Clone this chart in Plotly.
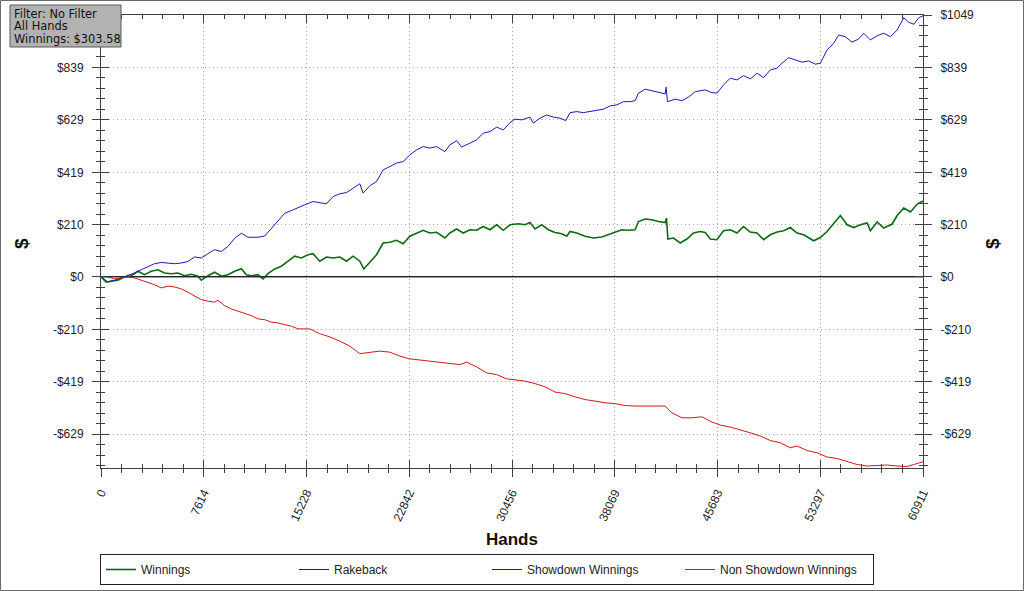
import plotly.graph_objects as go

# ---------------- data ----------------
x_tick_labels = ["0", "7614", "15228", "22842", "30456", "38069", "45683", "53297", "60911"]
y_tick_vals = [-629, -419, -210, 0, 210, 419, 629, 839, 1049]
y_tick_labels = ["-$629", "-$419", "-$210", "$0", "$210", "$419", "$629", "$839", "$1049"]
info_lines = ["Filter: No Filter", "All Hands", "Winnings: $303.58"]

showdown_x = [0, 504, 1002, 1499, 1988, 2485, 2982, 3472, 3969, 4466, 4956, 5453, 5950, 6440, 6937,
              7434, 7923, 8421, 8918, 9407, 9904, 10401, 10891, 11633, 12130, 12627, 13117, 13614,
              14111, 14601, 15098, 15714, 16211, 16708, 17197, 17694, 18191, 18681, 19178, 19423,
              19920, 20417, 20907, 21404, 21901, 22391, 22888, 23385, 23874, 24371, 24868, 25484,
              25855, 26352, 26723, 27339, 27836, 28326, 28823, 29320, 29810, 30307, 30677, 31174,
              31790, 32035, 32532, 33029, 33519, 34016, 34439, 34758, 35255, 35745, 36242, 36739,
              37229, 37726, 38223, 38712, 39209, 39580, 39825, 40322, 40819, 41309, 41806, 41880,
              41977, 42548, 43045, 43535, 44032, 44773, 45271, 45642, 46131, 46628, 47125, 47615,
              48112, 48609, 49099, 49596, 50093, 50464, 50954, 51451, 51948, 52438, 52935, 53305,
              53802, 54292, 54663, 55160, 55657, 56147, 56518, 57015, 57512, 58002, 58499, 58996,
              59486, 59857, 60228, 60599, 60911]
showdown_y = [0, -19, -13, -4, 5, 16, 29, 40, 53, 58, 56, 53, 56, 62, 80,
              76, 93, 109, 102, 122, 155, 175, 159, 159, 164, 195, 226, 255,
              266, 279, 289, 302, 296, 293, 322, 333, 338, 356, 373, 336,
              365, 382, 429, 442, 456, 462, 489, 509, 522, 516, 522, 502,
              529, 546, 520, 536, 549, 576, 582, 600, 589, 618, 632, 629,
              640, 616, 636, 649, 640, 636, 626, 658, 662, 658, 662, 669,
              672, 685, 689, 702, 702, 706, 736, 752, 746, 742, 733, 760,
              702, 712, 706, 720, 742, 749, 738, 736, 769, 796, 789, 806,
              793, 816, 798, 829, 836, 856, 878, 869, 860, 865, 852, 856,
              909, 936, 969, 962, 940, 953, 976, 949, 966, 976, 962, 989,
              1038, 1020, 1012, 1038, 1046]

winnings_x = [0, 386, 757, 1246, 1743, 2240, 2730, 3227, 3724, 4214, 4711, 5208, 5698, 6195, 6692,
              7182, 7434, 7923, 8421, 8918, 9407, 9904, 10401, 10772, 11143, 11633, 12004, 12375,
              12872, 13369, 13859, 14356, 14853, 15343, 15714, 16211, 16708, 17197, 17694, 18191,
              18681, 19178, 19475, 19920, 20417, 20907, 21404, 21901, 22391, 22888, 23385, 23874,
              24371, 24868, 25484, 25855, 26352, 26842, 27339, 27836, 28326, 28823, 29320, 29810,
              30307, 30923, 31419, 31790, 32161, 32658, 33148, 33645, 34142, 34513, 34758, 35255,
              35871, 36487, 37110, 37599, 38096, 38593, 39083, 39580, 39825, 40322, 40819, 41309,
              41806, 41902, 42006, 42422, 42919, 43416, 43906, 44403, 44773, 45144, 45642, 46131,
              46628, 47125, 47615, 48112, 48609, 49099, 49596, 50093, 50583, 51080, 51577, 52067,
              52809, 53305, 53802, 54292, 54789, 55286, 55776, 56273, 56770, 57015, 57512, 58002,
              58625, 58996, 59486, 59983, 60480, 60911]
winnings_y = [0, -21, -17, -13, 0, 5, 23, 9, 23, 29, 16, 13, 16, 5, 11,
              3, -13, 5, 19, 3, 9, 23, 33, 9, 5, 9, -8, 13,
              32, 43, 63, 83, 76, 89, 93, 63, 80, 76, 80, 63,
              83, 63, 32, 59, 89, 136, 139, 147, 133, 163, 176, 187,
              176, 179, 156, 176, 192, 176, 189, 187, 202, 189, 209, 187,
              209, 213, 209, 218, 192, 209, 189, 178, 173, 163, 182, 176,
              163, 156, 160, 169, 178, 189, 187, 189, 222, 232, 229, 222,
              218, 236, 152, 156, 136, 152, 176, 182, 178, 152, 149, 185,
              189, 176, 202, 180, 176, 149, 169, 180, 185, 198, 176, 169,
              145, 158, 182, 216, 246, 209, 198, 209, 216, 185, 220, 196,
              212, 246, 276, 260, 292, 304]

non_showdown_x = [0, 504, 1002, 1499, 1988, 2485, 2982, 3472, 3969, 4466, 4956, 5453, 5950, 6440,
                  6937, 7434, 7923, 8421, 8666, 9163, 9660, 10149, 10646, 11143, 11633, 12130,
                  12627, 13117, 13614, 14111, 14601, 15469, 16211, 16953, 17694, 18436, 19178,
                  19920, 20662, 21404, 22145, 22888, 23629, 24371, 25113, 25855, 26597, 27094,
                  27836, 28578, 29320, 30062, 30677, 31419, 32161, 32903, 33645, 34387, 35129,
                  35871, 36613, 37355, 38096, 38838, 39580, 40322, 41064, 41806, 42303, 43045,
                  43787, 44529, 45271, 45886, 46628, 47370, 48112, 48854, 49596, 50338, 51080,
                  51577, 52319, 53061, 53802, 54544, 55286, 56028, 56770, 57512, 58254, 58996,
                  59738, 60228, 60911]
non_showdown_y = [0, 0, -8, -4, 0, -4, -13, -21, -31, -44, -37, -40, -48, -61,
                  -75, -91, -97, -101, -93, -115, -128, -137, -144, -155, -168, -171,
                  -181, -184, -191, -197, -208, -208, -227, -240, -257, -277, -307,
                  -301, -297, -301, -317, -328, -333, -337, -341, -347, -351, -341,
                  -360, -384, -391, -408, -413, -417, -427, -440, -461, -467, -480,
                  -491, -497, -504, -507, -515, -517, -517, -520, -517, -544, -564,
                  -564, -560, -581, -593, -601, -611, -624, -637, -655, -664, -684,
                  -677, -695, -704, -721, -727, -740, -751, -757, -755, -753, -757,
                  -759, -751, -740]

rakeback_x = [0, 60911]
rakeback_y = [0, 0]

# ---------------- layout geometry ----------------
W, H = 1024, 591
ML, MR, MT, MB = 101, 101, 15, 123
PW, PH = W - ML - MR, H - MT - MB


def pxx(px):
    return (px - ML) / PW


def pxy(py):
    return (H - MB - py) / PH


x_max = float(x_tick_labels[-1])
x_tick_vals = [float(v) for v in x_tick_labels]
y_range = [-765, 1049]
# the top-left label is hidden behind the info box in the reference
left_tick_labels = [t if v != y_tick_vals[-1] else "" for v, t in zip(y_tick_vals, y_tick_labels)]

AX = "#404040"
GRID = "#a8a8a8"
FONT = "Liberation Sans, Arial, sans-serif"

fig = go.Figure()
fig.add_trace(go.Scatter(x=winnings_x, y=winnings_y, name="Winnings", mode="lines",
                         line=dict(color="#0b6a12", width=1.6)))
fig.add_trace(go.Scatter(x=rakeback_x, y=rakeback_y, name="Rakeback", mode="lines",
                         line=dict(color="#262636", width=1)))
fig.add_trace(go.Scatter(x=showdown_x, y=showdown_y, name="Showdown Winnings", mode="lines",
                         line=dict(color="#1a1ab4", width=1)))
fig.add_trace(go.Scatter(x=non_showdown_x, y=non_showdown_y, name="Non Showdown Winnings",
                         mode="lines", line=dict(color="#d01818", width=1)))
# empty helper traces so overlay axes are drawn
fig.add_trace(go.Scatter(x=[], y=[], xaxis="x2", yaxis="y2", showlegend=False, hoverinfo="skip"))
fig.add_trace(go.Scatter(x=[], y=[], xaxis="x", yaxis="y3", showlegend=False, hoverinfo="skip"))

minor_x_out = dict(ticks="outside", ticklen=4, tick0=0, dtick=x_max / 40, tickcolor=AX, showgrid=False)
minor_x_in = dict(ticks="inside", ticklen=4, tick0=0, dtick=x_max / 40, tickcolor=AX, showgrid=False)
minor_y_out = dict(ticks="outside", ticklen=4, tick0=0, dtick=1049 / 25, tickcolor=AX, showgrid=False)
minor_y_in = dict(ticks="inside", ticklen=4, tick0=0, dtick=1049 / 25, tickcolor=AX, showgrid=False)

fig.update_layout(
    width=W, height=H,
    margin=dict(l=ML, r=MR, t=MT, b=MB, pad=0, autoexpand=False),
    paper_bgcolor="white", plot_bgcolor="white",
    font=dict(family=FONT, size=12, color="#222"),
    showlegend=True,
    xaxis=dict(range=[0, x_max], tickmode="array", tickvals=x_tick_vals, ticktext=x_tick_labels,
               tickangle=-65, ticks="outside", ticklen=8, tickcolor=AX, showline=True,
               linecolor=AX, linewidth=1, showgrid=True, gridcolor=GRID, griddash="1px,3px",
               gridwidth=1, zeroline=False, minor=minor_x_out, ticklabelstandoff=4,
               automargin=False, tickfont=dict(family=FONT, size=12, color="#222")),
    xaxis2=dict(range=[0, x_max], overlaying="x", anchor="y2", tickmode="array",
                tickvals=x_tick_vals, ticks="inside", ticklen=8, tickcolor=AX, showline=True,
                linecolor=AX, mirror="ticks", showticklabels=False, showgrid=False,
                zeroline=False, minor=minor_x_in, automargin=False),
    yaxis=dict(range=y_range, tickmode="array", tickvals=y_tick_vals, ticktext=left_tick_labels,
               ticks="outside", ticklen=8, tickcolor=AX, showline=True, linecolor=AX,
               showgrid=True, gridcolor=GRID, griddash="1px,3px", gridwidth=1,
               zeroline=True, zerolinecolor="#202020", zerolinewidth=1,
               minor=minor_y_out, ticklabelstandoff=6, automargin=False,
               tickfont=dict(family=FONT, size=12, color="#222")),
    yaxis2=dict(range=y_range, overlaying="y", anchor="x2", tickmode="array",
                tickvals=y_tick_vals, ticks="inside", ticklen=8, tickcolor=AX, showline=True,
                linecolor=AX, mirror="ticks", showticklabels=False, showgrid=False,
                zeroline=False, minor=minor_y_in, automargin=False),
    yaxis3=dict(range=y_range, overlaying="y", side="right", anchor="x", tickmode="array",
                tickvals=y_tick_vals, ticktext=y_tick_labels, ticks="outside", ticklen=8,
                tickcolor=AX, showline=True, linecolor=AX, showgrid=False, zeroline=False,
                minor=minor_y_out, ticklabelstandoff=6, automargin=False,
                tickfont=dict(family=FONT, size=12, color="#222")),
    legend=dict(orientation="h", x=pxx(100), y=pxy(554), xanchor="left", yanchor="top",
                bgcolor="white", bordercolor="#202020", borderwidth=1,
                entrywidth=148, entrywidthmode="pixels", traceorder="normal",
                font=dict(family=FONT, size=12, color="#222"), itemclick=False),
)

fig.add_annotation(text="<b>$</b>", xref="paper", yref="paper", x=pxx(22), y=pxy(244),
                   showarrow=False, textangle=-90, font=dict(family=FONT, size=19, color="#111"),
                   xanchor="center", yanchor="middle")
fig.add_annotation(text="<b>$</b>", xref="paper", yref="paper", x=pxx(993), y=pxy(244),
                   showarrow=False, textangle=-90, font=dict(family=FONT, size=19, color="#111"),
                   xanchor="center", yanchor="middle")
fig.add_annotation(text="<b>Hands</b>", xref="paper", yref="paper", x=pxx(512), y=pxy(539),
                   showarrow=False, font=dict(family=FONT, size=17, color="#111"),
                   xanchor="center", yanchor="middle")

# info box (top-left)
fig.add_shape(type="rect", xref="paper", yref="paper", x0=pxx(10), x1=pxx(121),
              y0=pxy(47), y1=pxy(5), fillcolor="#b2b2b2", line=dict(color="#5a5a5a", width=1),
              layer="above")
for i, line in enumerate(info_lines):
    fig.add_annotation(text=line, xref="paper", yref="paper", x=pxx(12), y=pxy(13.5 + 12.5 * i),
                       xanchor="left", yanchor="middle", showarrow=False, align="left",
                       font=dict(family="DejaVu Sans, Verdana, sans-serif", size=11.4,
                                 color="#111"))

fig.add_shape(type="rect", xref="paper", yref="paper", x0=pxx(0.5), x1=pxx(1023.5),
              y0=pxy(590.5), y1=pxy(0.5), line=dict(color="#6a6a6a", width=1), layer="below")

fig.write_html("out.html", config={"displayModeBar": False},
               post_script="document.body.style.margin='0';document.body.style.overflow='hidden';")
